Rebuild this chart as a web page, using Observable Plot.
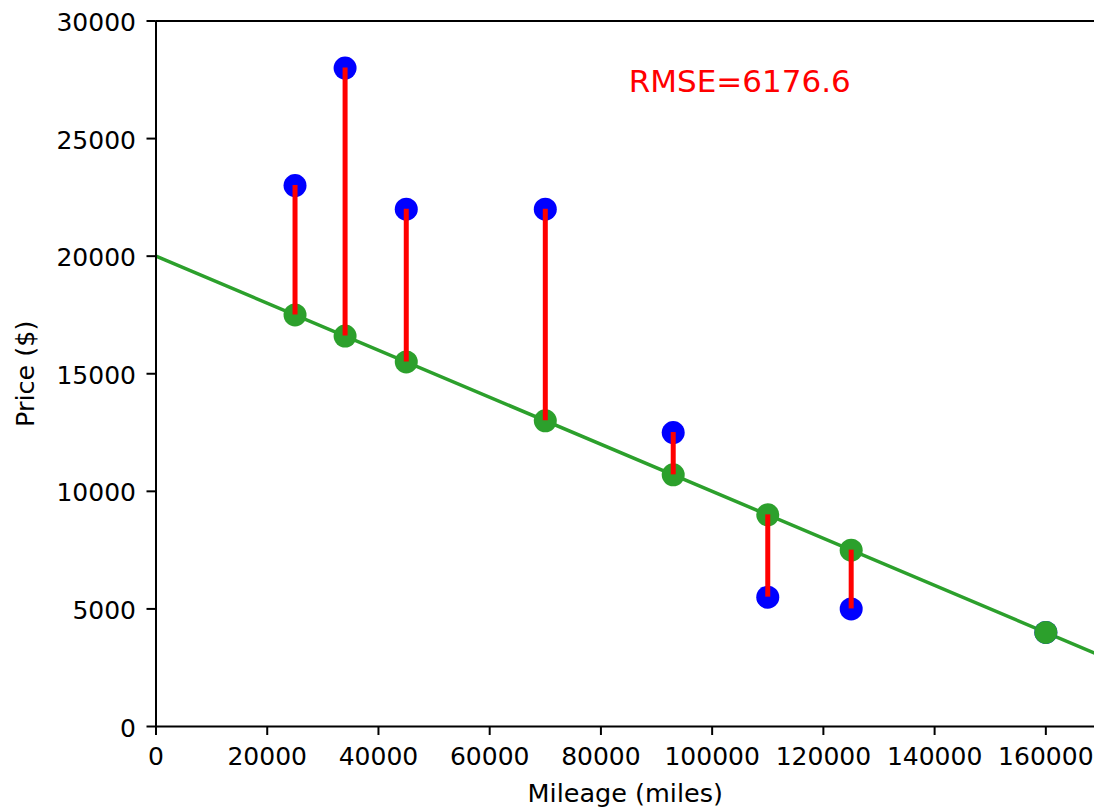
<!DOCTYPE html>
<html>
<head>
<meta charset="utf-8">
<script src="https://cdn.jsdelivr.net/npm/d3@7"></script>
<script src="https://cdn.jsdelivr.net/npm/@observablehq/plot@0.6"></script>
<style>
  html, body { margin: 0; padding: 0; background: #ffffff; }
  #chart svg { display: block; }
</style>
</head>
<body>
<div id="chart"></div>
<script>
// ---- data ----
const mileage        = [25000, 34000, 45000, 70000, 93000, 110000, 125000, 160000];
const actualPrice    = [23000, 28000, 22000, 22000, 12500, 5500, 5000, 4000];
const predictedPrice = [17500, 16600, 15500, 13000, 10700, 9000, 7500, 4000];
const fitMileage     = [0, 170000];
const fitPrice       = [20000, 3000];
const xTicks = [0, 20000, 40000, 60000, 80000, 100000, 120000, 140000, 160000];
const yTicks = [0, 5000, 10000, 15000, 20000, 25000, 30000];
const xDomain = [0, 168750];
const yDomain = [0, 30000];
const rmseLabel = "RMSE=6176.6";
const rmseAt = [85000, 27000];
const xLabel = "Mileage (miles)";
const yLabel = "Price ($)";

// ---- tables built from the arrays ----
const points = mileage.map((m, i) => ({mileage: m, actual: actualPrice[i], predicted: predictedPrice[i]}));
const fit = fitMileage.map((m, i) => ({mileage: m, price: fitPrice[i]}));
const notes = [{mileage: rmseAt[0], price: rmseAt[1], label: rmseLabel}];

const green = "#2ca02c";

const chart = Plot.plot({
  width: 1094,
  height: 809,
  marginLeft: 155.5,
  marginRight: 0,
  marginTop: 20.5,
  marginBottom: 83,
  style: {fontFamily: "'DejaVu Sans', sans-serif", fontSize: "25px", background: "#ffffff", color: "#000000"},
  x: {domain: xDomain},
  y: {domain: yDomain},
  marks: [
    Plot.line(fit, {x: "mileage", y: "price", stroke: green, strokeWidth: 3.5, clip: true}),
    Plot.dot(points, {x: "mileage", y: "actual", r: 11.5, fill: "#0000ff", stroke: "none"}),
    Plot.dot(points, {x: "mileage", y: "predicted", r: 11.5, fill: green, stroke: "none"}),
    Plot.ruleX(points, {x: "mileage", y1: "actual", y2: "predicted", stroke: "#ff0000", strokeWidth: 5}),
    Plot.text(notes, {x: "mileage", y: "price", text: "label", textAnchor: "start", lineAnchor: "middle",
      dy: -9.8, fill: "#ff0000", fontSize: 31}),
    // spines
    Plot.ruleX([xDomain[0]], {stroke: "#000", strokeWidth: 2}),
    Plot.ruleY(yDomain, {stroke: "#000", strokeWidth: 2}),
    // axes
    Plot.axisX({ticks: xTicks, tickFormat: "d", tickSize: 9, tickPadding: 12, strokeWidth: 2, label: null, fontSize: 25}),
    Plot.axisY({ticks: yTicks, tickFormat: () => "", tickSize: 9, strokeWidth: 2, label: null}),
    Plot.axisY({ticks: yTicks, tickFormat: "d", tickSize: 0, tickPadding: 20, dy: 2, label: null, fontSize: 25}),
    // axis titles
    Plot.text([xLabel], {frameAnchor: "bottom", text: d => d, dy: 67, textAnchor: "middle", lineAnchor: "middle", fontSize: 25.5, fill: "#000"}),
    Plot.text([yLabel], {frameAnchor: "left", text: d => d, dx: -130.5, rotate: -90, textAnchor: "middle", lineAnchor: "middle", fontSize: 25.5, fill: "#000"})
  ]
});

document.getElementById("chart").appendChild(chart);
</script>
</body>
</html>
